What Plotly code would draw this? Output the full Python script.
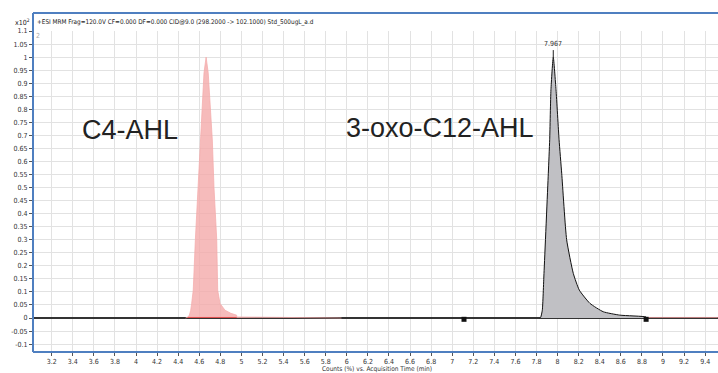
import plotly.graph_objects as go

# ---- data ----
c4_x = [4.47, 4.49, 4.506, 4.519, 4.528, 4.543, 4.563, 4.588, 4.614, 4.645, 4.665,
        4.685, 4.724, 4.74, 4.766, 4.775, 4.797, 4.844, 4.90, 4.955, 4.956, 5.3, 5.9, 5.95]
c4_y = [0.0, 0.003, 0.011, 0.03, 0.056, 0.107, 0.30, 0.50, 0.683, 0.94, 1.0,
        0.94, 0.683, 0.50, 0.30, 0.107, 0.056, 0.03, 0.018, 0.011, 0.004, 0.003, 0.002, 0.0]

c12_x = [7.83, 7.84, 7.855, 7.871, 7.912, 7.925, 7.937, 7.959, 7.985, 8.014, 8.039,
         8.086, 8.149, 8.206, 8.307, 8.433, 8.59, 8.84, 8.845]
c12_y = [0.0, 0.003, 0.03, 0.171, 0.555, 0.683, 0.875, 1.0, 0.875, 0.683, 0.555,
         0.30, 0.171, 0.107, 0.056, 0.024, 0.011, 0.004, 0.0]

tail_x = [8.85, 9.52]
tail_y = [0.002, 0.002]

int_marker_x = [7.112, 8.84]
int_marker_y = [-0.005, -0.005]

c4_base_x = [4.49, 4.955]
c4_base_y = [0.002, 0.002]

apex_label = "7.967"
apex_x = 7.959

x_ticks = [round(3.2 + 0.2 * i, 1) for i in range(32)]
x_ticktext = [("%g" % v) for v in x_ticks]
y_ticks = [round(-0.1 + 0.05 * i, 2) for i in range(25)]
y_ticktext = [("%g" % v) for v in y_ticks]

title_text = "+ESI MRM Frag=120.0V CF=0.000 DF=0.000 CID@9.0 (298.2000 -> 102.1000) Std_500ugL_a.d"
x_title = "Counts (%) vs. Acquisition Time (min)"

narrow = "DejaVu Sans Condensed, Liberation Sans Narrow, Arial Narrow, sans-serif"
sans = "Liberation Sans, Arial, sans-serif"
blue = "#4f7fc0"

fig = go.Figure()

fig.add_trace(go.Scatter(x=c4_x, y=c4_y, mode="lines", fill="tozeroy",
                         fillcolor="rgba(244,170,170,0.8)",
                         line=dict(color="rgba(244,170,170,0.9)", width=0.8),
                         hoverinfo="skip"))
fig.add_trace(go.Scatter(x=c4_base_x, y=c4_base_y, mode="lines",
                         line=dict(color="#e05050", width=1), hoverinfo="skip"))
fig.add_trace(go.Scatter(x=c12_x, y=c12_y, mode="lines", fill="tozeroy",
                         fillcolor="rgb(192,192,196)", line_shape="spline",
                         line=dict(color="#111111", width=1, smoothing=0.5), hoverinfo="skip"))
fig.add_trace(go.Scatter(x=tail_x, y=tail_y, mode="lines",
                         line=dict(color="rgba(230,150,150,0.8)", width=1), hoverinfo="skip"))
fig.add_trace(go.Scatter(x=int_marker_x, y=int_marker_y, mode="markers",
                         marker=dict(symbol="square", size=5, color="#111111"),
                         hoverinfo="skip"))

# apex label
fig.add_annotation(x=apex_x, y=1.0, text=apex_label, showarrow=True, arrowhead=0,
                   ax=0, ay=-7, arrowwidth=1, arrowcolor="#222222", yanchor="bottom",
                   font=dict(family=narrow, size=7, color="#333333"))

fig.add_annotation(x=3.943, y=0.72, xref="x", yref="y", text="C4-AHL", showarrow=False,
                   font=dict(family=sans, size=27, color="#222222"))
fig.add_annotation(x=6.884, y=0.73, xref="x", yref="y", text="3-oxo-C12-AHL", showarrow=False,
                   font=dict(family=sans, size=27, color="#222222"))

# header text and multiplier
fig.add_annotation(x=0.003, y=1.028, xref="paper", yref="paper", text=title_text,
                   showarrow=False, xanchor="left", yanchor="middle",
                   font=dict(family=narrow, size=6.4, color="#222222"))
fig.add_annotation(x=-0.002, y=1.028, xref="paper", yref="paper", text="x10<sup>2</sup>",
                   showarrow=False, xanchor="right", yanchor="middle",
                   font=dict(family=narrow, size=7, color="#222222"))
fig.add_annotation(x=0.002, y=0.985, xref="paper", yref="paper", text="2",
                   showarrow=False, xanchor="left", yanchor="middle",
                   font=dict(family=narrow, size=7, color="#aaaaaa"))
fig.add_annotation(x=0.502, y=-0.053, xref="paper", yref="paper", text=x_title,
                   showarrow=False, xanchor="center", yanchor="middle",
                   font=dict(family=narrow, size=6.5, color="#333333"))

# frame lines
fig.add_shape(type="line", xref="paper", yref="paper", x0=0, x1=1, y0=1.056, y1=1.056,
              line=dict(color=blue, width=2))
fig.add_shape(type="line", xref="paper", yref="paper", x0=0, x1=0, y0=0, y1=1.056,
              line=dict(color=blue, width=2))
fig.add_shape(type="line", xref="paper", yref="paper", x0=0, x1=1, y0=0, y1=0,
              line=dict(color=blue, width=2))

fig.update_layout(
    width=718, height=373,
    margin=dict(l=33, r=0, t=31, b=21),
    paper_bgcolor="white", plot_bgcolor="white",
    showlegend=False,
    xaxis=dict(range=[3.0226, 9.522], tickmode="array", tickvals=x_ticks, ticktext=x_ticktext,
               showgrid=True, gridcolor="#e2e2e2", gridwidth=1, zeroline=False,
               ticks="outside", ticklen=3, tickcolor="#555555",
               tickfont=dict(family=narrow, size=7, color="#333333"), showline=False),
    yaxis=dict(range=[-0.1303, 1.1], tickmode="array", tickvals=y_ticks, ticktext=y_ticktext,
               showgrid=True, gridcolor="#e2e2e2", gridwidth=1,
               zeroline=True, zerolinecolor="#333333", zerolinewidth=1.5,
               ticks="outside", ticklen=3, tickcolor="#555555",
               tickfont=dict(family=narrow, size=7, color="#333333"), showline=False),
)

fig.write_html("out.html")
